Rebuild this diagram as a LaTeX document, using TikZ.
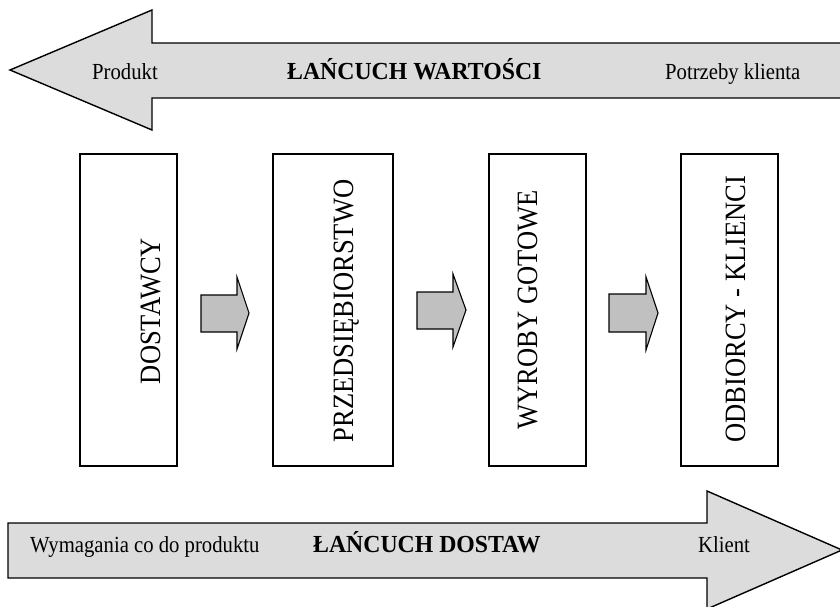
\documentclass[tikz,border=0pt]{standalone}
\usepackage{fontspec}
\setmainfont{Liberation Serif}
\newfontfamily\condserif[FakeStretch=0.9]{Liberation Serif}
\newfontfamily\condbold[FakeStretch=0.97]{Liberation Serif Bold}
\definecolor{bigfill}{HTML}{DCDCDC}
\definecolor{smallfill}{HTML}{C0C0C0}
\tikzset{
  bigarrow/.style={draw=black, line width=1.4pt, fill=bigfill, line join=miter},
  smallarrow/.style={draw=black, line width=1.1pt, fill=smallfill, line join=miter},
  stagebox/.style={draw=black, line width=1.3pt, fill=white, minimum width=97pt, minimum height=312pt, inner sep=0pt},
  stagetext/.style={rotate=90, anchor=base, inner sep=0pt, font=\condserif\fontsize{29.5}{31}\selectfont},
  lbl/.style={anchor=base west, inner sep=0pt, font=\condserif\fontsize{23}{25}\selectfont},
  blbl/.style={anchor=base west, inner sep=0pt, font=\condbold\fontsize{24.5}{26}\selectfont}
}
\begin{document}
\begin{tikzpicture}[x=1pt,y=-1pt]
\useasboundingbox (0,0) rectangle (840,607);
% top arrow (value chain)
\draw[bigarrow] (880,43) -- (152,43) -- (152,10) -- (10,70) -- (152,130) -- (152,98) -- (880,98);
\node[lbl] (produkt) at (92,80) {Produkt};
\node[blbl] (wartosci) at (287,80) {ŁAŃCUCH WARTOŚCI};
\node[lbl] (potrzeby) at (665,80) {Potrzeby klienta};
% bottom arrow (supply chain)
\draw[bigarrow] (8,523) -- (707,523) -- (707,491) -- (842,550) -- (707,609) -- (707,578) -- (8,578) -- cycle;
\node[lbl] (wymagania) at (30,552) {Wymagania co do produktu};
\node[blbl] (dostaw) at (313,552) {ŁAŃCUCH DOSTAW};
\node[lbl] (klient) at (698,552) {Klient};
% boxes
\node[stagebox] (b1) at (128.5,310) {};
\node[stagebox, minimum width=120pt] (b2) at (333,310) {};
\node[stagebox] (b3) at (537.5,310) {};
\node[stagebox] (b4) at (729.5,310) {};
\node[stagetext] (t1) at (160,311) {DOSTAWCY};
\node[stagetext] (t2) at (353,311) {PRZEDSIĘBIORSTWO};
\node[stagetext] (t3) at (537,310) {WYROBY GOTOWE};
\node[stagetext] (t4) at (745,309) {ODBIORCY - KLIENCI};
% small block arrows
\draw[smallarrow] (201,295) -- (237,295) -- (237,277) -- (249,313) -- (237,349) -- (237,332) -- (201,332) -- cycle;
\draw[smallarrow] (417,292) -- (453,292) -- (453,274) -- (466,310) -- (453,347) -- (453,329) -- (417,329) -- cycle;
\draw[smallarrow] (609,294) -- (646,294) -- (646,277) -- (658,313) -- (646,350) -- (646,332) -- (609,332) -- cycle;
\end{tikzpicture}
\end{document}
